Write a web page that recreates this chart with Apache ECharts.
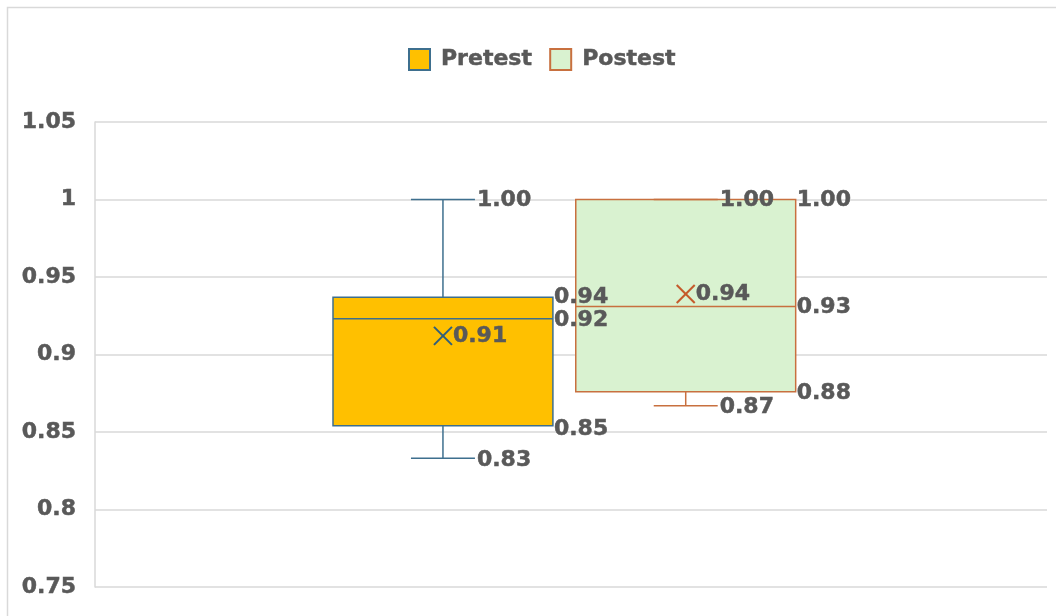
<!DOCTYPE html>
<html>
<head>
<meta charset="utf-8">
<title>Pretest vs Postest</title>
<script src="https://cdn.jsdelivr.net/npm/echarts@6/dist/echarts.min.js"></script>
<style>
  html, body { margin: 0; padding: 0; background: #ffffff; }
  #chart { width: 1056px; height: 616px; }
</style>
</head>
<body>
<div id="chart"></div>
<script>
// Five-number summaries: [min, Q1, median, Q3, max], plus the mean
const seriesNames = ['Pretest', 'Postest'];
const pretestStats = [0.833, 0.854, 0.923, 0.937, 1.00];
const pretestMean = 0.912;
const postestStats = [0.867, 0.876, 0.931, 1.00, 1.00];
const postestMean = 0.939;
const yTicks = [0.75, 0.8, 0.85, 0.9, 0.95, 1, 1.05];

const FONT = 'DejaVu Sans';
const TEXT_COLOR = '#595959';
const GRID_COLOR = '#D9D9D9';
const TEXT_WEIGHT = 0.5; // thin outline to thicken the bold glyphs

// per-series look and label anchoring (order: min, q1, median, q3, max, mean)
const looks = [
  {
    fill: '#FFC000', stroke: '#3E6F8E', mark: '#2F5F7C',
    offset: -0.1345, anchors: ['cap', 'box', 'box', 'box', 'cap', 'mean'],
    dy: [2, 3, 1, 0, 1, 0]
  },
  {
    fill: '#D9F2D0', stroke: '#C8703F', mark: '#C55A2B',
    offset: 0.1205, anchors: ['cap', 'box', 'box', 'inner', 'box', 'mean'],
    dy: [2, 2, 1, 1, 1, 0]
  }
];

// shared geometry of one box within the category band
function boxGeometry(look, api) {
  const cat = api.value(0);
  const band = api.size([1, 0])[0];
  const cx = api.coord([cat, 0])[0] + look.offset * band;
  const bw = band * 0.231;
  const capHalf = band * 0.0336;
  const y = i => api.coord([cat, api.value(i)])[1];
  return {
    cx, bw, capHalf, left: cx - bw / 2, right: cx + bw / 2,
    ys: [y(1), y(2), y(3), y(4), y(5), y(6)]
  };
}

function makeBoxRender(look) {
  return function (params, api) {
    const g = boxGeometry(look, api);
    const [yMin, yQ1, yMed, yQ3, yMax, yMean] = g.ys;
    const cx = g.cx, capHalf = g.capHalf;
    const lineStyle = { stroke: look.stroke, lineWidth: 1.5 };
    const children = [
      { type: 'rect', shape: { x: g.left, y: yQ3, width: g.bw, height: yQ1 - yQ3 },
        style: { fill: look.fill, stroke: look.stroke, lineWidth: 1.5 } },
      { type: 'line', shape: { x1: g.left, y1: yMed, x2: g.right, y2: yMed }, style: lineStyle },
      { type: 'line', shape: { x1: cx, y1: yQ3, x2: cx, y2: yMax }, style: lineStyle },
      { type: 'line', shape: { x1: cx - capHalf, y1: yMax, x2: cx + capHalf, y2: yMax }, style: lineStyle },
      { type: 'line', shape: { x1: cx, y1: yQ1, x2: cx, y2: yMin }, style: lineStyle },
      { type: 'line', shape: { x1: cx - capHalf, y1: yMin, x2: cx + capHalf, y2: yMin }, style: lineStyle }
    ];
    // mean marker (×)
    const m = 9;
    const markStyle = { stroke: look.mark, lineWidth: 2 };
    children.push(
      { type: 'line', shape: { x1: cx - m, y1: yMean - m, x2: cx + m, y2: yMean + m }, style: markStyle },
      { type: 'line', shape: { x1: cx - m, y1: yMean + m, x2: cx + m, y2: yMean - m }, style: markStyle }
    );
    return { type: 'group', children: children };
  };
}

function makeLabelRender(look) {
  return function (params, api) {
    const g = boxGeometry(look, api);
    const children = [];
    for (let i = 0; i < 6; i++) {
      const a = look.anchors[i];
      let lx;
      if (a === 'cap') lx = g.cx + g.capHalf + 2;
      else if (a === 'box') lx = g.right + 1;
      else if (a === 'inner') lx = g.cx + 34;
      else lx = g.cx + 10;
      children.push({
        type: 'text',
        style: {
          x: lx, y: g.ys[i] + look.dy[i],
          text: api.value(i + 1).toFixed(2),
          fill: TEXT_COLOR,
          stroke: TEXT_COLOR, lineWidth: TEXT_WEIGHT,
          font: 'bold 22px "' + FONT + '"',
          textAlign: 'left', textVerticalAlign: 'middle'
        }
      });
    }
    return { type: 'group', children: children };
  };
}

const seriesData = [
  [0, ...pretestStats, pretestMean],
  [0, ...postestStats, postestMean]
];

const boxSeries = seriesNames.map((n, i) => ({
  name: n,
  type: 'custom',
  z: 2,
  renderItem: makeBoxRender(looks[i]),
  itemStyle: { color: looks[i].fill, borderColor: looks[i].stroke },
  encode: { x: 0, y: [1, 2, 3, 4, 5, 6] },
  data: [seriesData[i]],
  clip: false
}));

// value labels sit above both boxes
const labelSeries = seriesNames.map((n, i) => ({
  name: n,
  type: 'custom',
  z: 5,
  silent: true,
  renderItem: makeLabelRender(looks[i]),
  itemStyle: { color: looks[i].fill, borderColor: looks[i].stroke },
  encode: { x: 0, y: [1, 2, 3, 4, 5, 6] },
  data: [seriesData[i]],
  clip: false
}));

const chart = echarts.init(document.getElementById('chart'), null, { renderer: 'canvas' });
chart.setOption({
  animation: false,
  backgroundColor: '#ffffff',
  graphic: [{
    type: 'rect', silent: true, z: -10,
    shape: { x: 7.5, y: 7.5, width: 1200, height: 800 },
    style: { fill: 'none', stroke: GRID_COLOR, lineWidth: 1.5 }
  }],
  legend: {
    left: 403, top: 43,
    itemWidth: 21, itemHeight: 21, itemGap: 17,
    icon: 'rect',
    textStyle: {
      fontFamily: FONT, fontWeight: 'bold', fontSize: 22, color: TEXT_COLOR,
      textBorderColor: TEXT_COLOR, textBorderWidth: TEXT_WEIGHT, padding: [0, 0, 0, 6]
    },
    data: seriesNames.map((n, i) => ({
      name: n,
      itemStyle: { color: looks[i].fill, borderColor: looks[i].stroke, borderWidth: 2 }
    }))
  },
  grid: { left: 95, top: 122, right: 9, bottom: 29, containLabel: false },
  xAxis: {
    type: 'category', data: ['all'],
    axisLine: { show: false }, axisTick: { show: false }, axisLabel: { show: false },
    splitLine: { show: false }
  },
  yAxis: {
    type: 'value',
    min: yTicks[0], max: yTicks[yTicks.length - 1], interval: 0.05,
    axisLine: { show: true, lineStyle: { color: GRID_COLOR, width: 1.5 } },
    axisTick: { show: false },
    axisLabel: {
      margin: 19, fontFamily: FONT, fontWeight: 'bold', fontSize: 22, color: TEXT_COLOR,
      textBorderColor: TEXT_COLOR, textBorderWidth: TEXT_WEIGHT,
      formatter: v => String(+v.toFixed(2))
    },
    splitLine: { lineStyle: { color: GRID_COLOR, width: 1.5 } }
  },
  series: boxSeries.concat(labelSeries)
});
</script>
</body>
</html>
